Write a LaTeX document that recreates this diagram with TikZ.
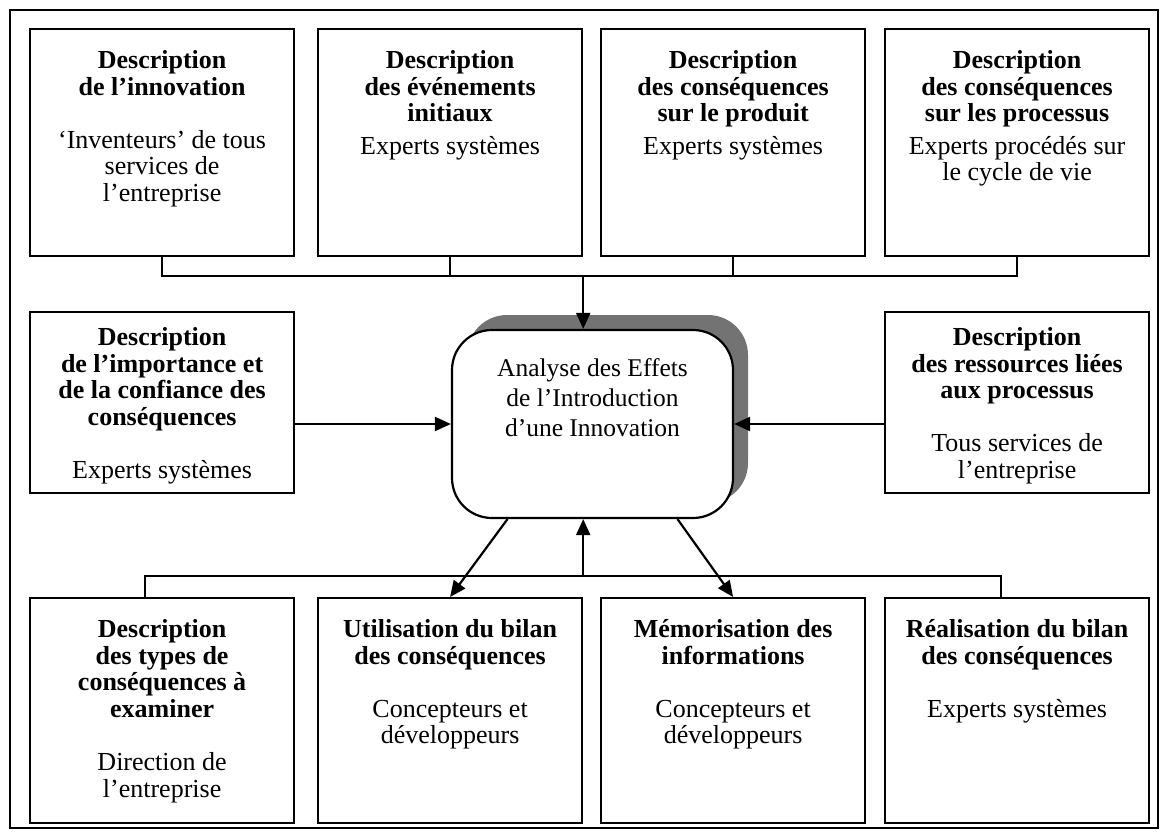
\documentclass[tikz,border=0pt]{standalone}
\usepackage{fontspec}
\setmainfont{Liberation Serif}
\usetikzlibrary{arrows.meta,positioning,shadows}

\begin{document}
\begin{tikzpicture}
  [x=0.5pt,y=-0.5pt,
   cadre/.style={draw,line width=1.1pt,minimum width=132pt,anchor=north west,inner sep=0pt},
   texte/.style={align=flush center,text width=128pt,inner sep=0pt,font=\fontsize{13}{13.3}\selectfont\bfseries},
   fleche/.style={line width=1.1pt,-{Triangle[length=8pt,width=7pt]}},
   trait/.style={line width=1.1pt}]

  \useasboundingbox (0,0) rectangle (1167,835);
  \draw[line width=0.8pt] (10,10) rectangle (1158,828);

  % boites du haut
  \node[cadre,minimum height=113.5pt] (h1) at (29,28) {};
  \node[cadre,minimum height=113.5pt] (h2) at (317,28) {};
  \node[cadre,minimum height=113.5pt] (h3) at (600,28) {};
  \node[cadre,minimum height=113.5pt] (h4) at (884,28) {};
  \node[texte,below=11pt of h1.north] (h1t) {Description\\de l’innovation\\[13.3pt]\mdseries ‘Inventeurs’ de tous\\services de\\l’entreprise};
  \node[texte,below=11pt of h2.north] (h2t) {Description\\des événements\\initiaux\\[3pt]\mdseries Experts systèmes};
  \node[texte,below=11pt of h3.north] (h3t) {Description\\des conséquences\\sur le produit\\[3pt]\mdseries Experts systèmes};
  \node[texte,below=11pt of h4.north] (h4t) {Description\\des conséquences\\sur les processus\\[3pt]\mdseries Experts procédés sur\\le cycle de vie};

  % boites du milieu
  \node[cadre,minimum height=90.5pt] (g) at (29,311) {};
  \node[cadre,minimum height=90.5pt] (d) at (884,311) {};
  \node[texte,below=8pt of g.north] (gt) {Description\\de l’importance et\\de la confiance des\\conséquences\\[13.3pt]\mdseries Experts systèmes};
  \node[texte,below=8pt of d.north] (dt) {Description\\des ressources liées\\aux processus\\[13.3pt]\mdseries Tous services de\\l’entreprise};

  \node[draw,fill=white,line width=1.1pt,rounded corners=20pt,minimum width=140.5pt,minimum height=94pt,
        drop shadow={shadow xshift=7.5pt,shadow yshift=7.5pt,fill=black!55,opacity=1}] (ana) at (592.5,424) {};
  \node[texte,font=\fontsize{12.75}{15}\selectfont,below=14.5pt of ana.north] (anat) {Analyse des Effets\\de l’Introduction\\d’une Innovation};

  % boites du bas
  \node[cadre,minimum height=112.5pt] (u1) at (29,597) {};
  \node[cadre,minimum height=112.5pt] (u2) at (317,597) {};
  \node[cadre,minimum height=112.5pt] (u3) at (600,597) {};
  \node[cadre,minimum height=112.5pt] (u4) at (884,597) {};
  \node[texte,below=11pt of u1.north] (u1t) {Description\\des types de\\conséquences à\\examiner\\[13.3pt]\mdseries Direction de\\l’entreprise};
  \node[texte,below=11pt of u2.north] (u2t) {Utilisation du bilan\\des conséquences\\[13.3pt]\mdseries Concepteurs et\\développeurs};
  \node[texte,below=11pt of u3.north] (u3t) {Mémorisation des\\informations\\[13.3pt]\mdseries Concepteurs et\\développeurs};
  \node[texte,below=11pt of u4.north] (u4t) {Réalisation du bilan\\des conséquences\\[13.3pt]\mdseries Experts systèmes};

  % liaisons
  \coordinate (hb) at (0,276);
  \coordinate (bg) at (145,576);
  \coordinate (bd) at (1001,576);

  \draw[trait] (h1.south) -- (h1.south |- hb) -- (h4.south |- hb) -- (h4.south);
  \draw[trait] (h2.south) -- (h2.south |- hb);
  \draw[trait] (h3.south) -- (h3.south |- hb);
  \draw[fleche] (h2.south east |- hb) -- (h2.south east |- ana.north);

  \draw[fleche] (g.east |- ana.west) -- (ana.west);
  \draw[fleche] (d.west |- ana.east) -- (ana.east);

  \draw[trait] (u1.north -| bg) -- (bg) -- (bd) -- (u4.north -| bd);
  \draw[fleche] (u2.north east |- bg) -- (u2.north east |- ana.south);
  \draw[fleche] ([xshift=-42.5pt]ana.south) -- (u2.north);
  \draw[fleche] ([xshift=42.5pt]ana.south) -- (u3.north);
\end{tikzpicture}
\end{document}
